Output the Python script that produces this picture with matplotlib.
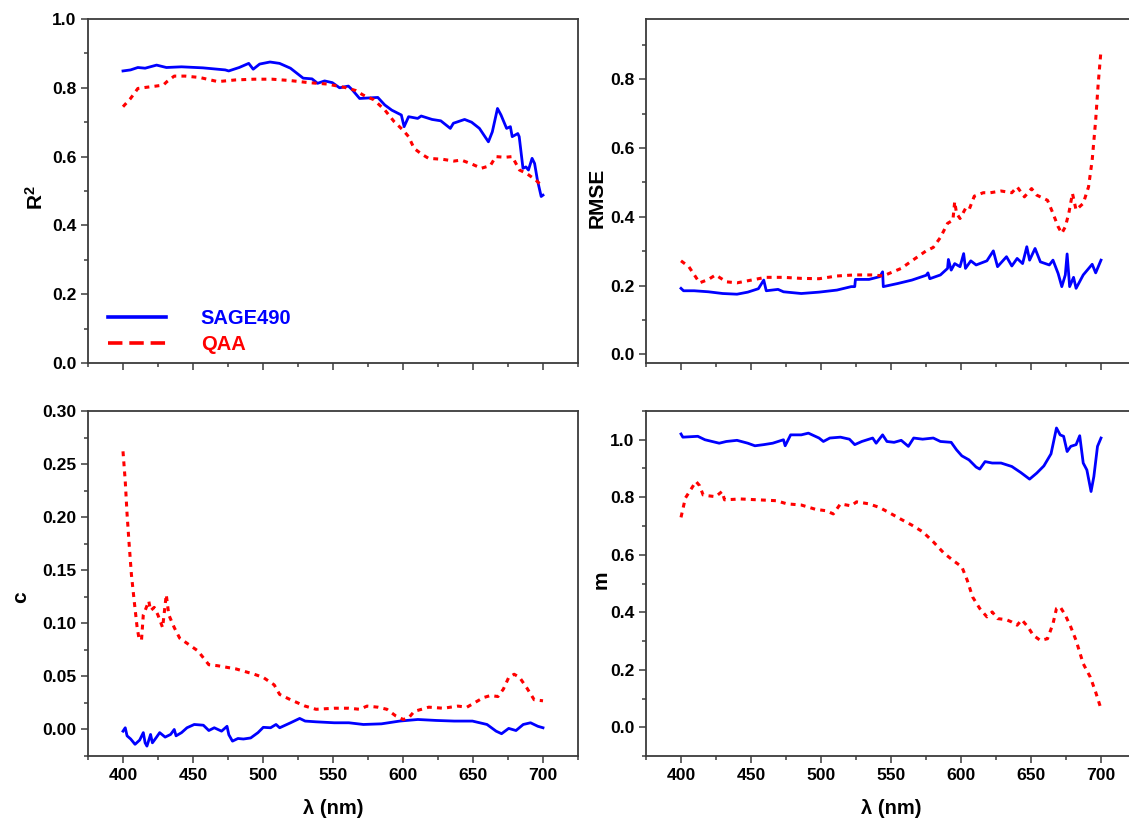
import matplotlib
matplotlib.use("Agg")
import matplotlib.pyplot as plt
from matplotlib.lines import Line2D
from matplotlib.ticker import MultipleLocator, FormatStrFormatter

# ---------------- data: retrieval skill vs wavelength ----------------
# R^2
wl_r2_sage = [400, 405.4, 410.6, 415.8, 424, 431, 441.8, 457, 473, 475.5,
              483, 489.8, 493, 497.6, 505, 511.8, 519.6, 528.7, 535, 539,
              544, 549.5, 554.7, 561, 563.8, 569, 582, 587, 592, 598.8,
              600.8, 604, 610.5, 613, 620.8, 627, 633.8, 636, 644, 649,
              654.6, 661, 663.8, 667.5, 670, 674, 676.7, 678, 682, 683,
              685.7, 687.8, 689.6, 692.2, 694, 696, 698.7, 700]
r2_sage = [0.849, 0.852, 0.859, 0.857, 0.866, 0.859, 0.861, 0.858, 0.852, 0.849,
           0.859, 0.871, 0.854, 0.869, 0.875, 0.871, 0.857, 0.828, 0.826, 0.813,
           0.820, 0.815, 0.800, 0.805, 0.794, 0.769, 0.772, 0.750, 0.735, 0.721,
           0.687, 0.716, 0.711, 0.718, 0.708, 0.704, 0.682, 0.697, 0.708, 0.700,
           0.682, 0.643, 0.672, 0.740, 0.721, 0.682, 0.687, 0.658, 0.667, 0.658,
           0.566, 0.570, 0.561, 0.595, 0.580, 0.532, 0.484, 0.488]

wl_r2_qaa = [400, 405.4, 410.6, 415.8, 423.6, 428.8, 431.4, 436.6, 444.4, 454.8,
             467.7, 480.7, 493.7, 506.6, 519.6, 532.6, 545.6, 558.5, 566.3, 571.5,
             579.3, 587.1, 593.6, 600, 604, 607.9, 613, 618.2, 628.6, 636.4,
             641.6, 649.4, 655.9, 662.4, 666.3, 672.7, 678, 683.2, 688.3, 694.8,
             698.7, 700]
r2_qaa = [0.745, 0.769, 0.798, 0.801, 0.805, 0.808, 0.818, 0.834, 0.834, 0.830,
          0.818, 0.823, 0.825, 0.825, 0.821, 0.815, 0.811, 0.801, 0.792, 0.779,
          0.765, 0.735, 0.702, 0.677, 0.658, 0.624, 0.608, 0.595, 0.592, 0.587,
          0.590, 0.578, 0.566, 0.574, 0.600, 0.598, 0.600, 0.561, 0.551, 0.532,
          0.517, 0.512]

# RMSE
wl_rmse_sage = [400, 401.8, 409.4, 419.6, 429.8, 440, 447.7, 455.3, 459.1, 460.9,
                469.3, 473.2, 485.9, 498.6, 511.4, 521.6, 524.1, 524.6, 534.3, 542,
                544, 544.5, 554.7, 564.9, 575.1, 576.4, 577.7, 585.3, 590.4, 591,
                593, 595.5, 599.3, 601.9, 603.2, 607, 610.8, 618.5, 623.1, 626.1,
                632.5, 636.3, 640.1, 644, 647, 649, 652.9, 656.7, 663.1, 665.7,
                669.4, 672, 674.5, 675.8, 677.6, 680.4, 682.2, 687.3, 693.7, 696.2,
                700]
rmse_sage = [0.192, 0.185, 0.185, 0.182, 0.177, 0.175, 0.181, 0.191, 0.216, 0.185,
             0.189, 0.182, 0.177, 0.181, 0.187, 0.197, 0.197, 0.218, 0.218, 0.226,
             0.240, 0.197, 0.206, 0.216, 0.230, 0.237, 0.220, 0.231, 0.250, 0.276,
             0.245, 0.264, 0.255, 0.293, 0.250, 0.272, 0.260, 0.272, 0.301, 0.255,
             0.284, 0.257, 0.279, 0.264, 0.313, 0.274, 0.308, 0.269, 0.260, 0.274,
             0.235, 0.197, 0.231, 0.292, 0.197, 0.224, 0.192, 0.231, 0.262, 0.237,
             0.274]

wl_rmse_qaa = [400, 405.6, 413.3, 419.6, 424.7, 432.4, 440, 450.2, 460.4, 473.2,
               485.9, 498.6, 511.4, 524.1, 536.9, 544.5, 549.6, 557.3, 564.9, 575.1,
               580.2, 585.3, 590.4, 594.2, 595.5, 596.8, 599.3, 603.2, 605.7, 609.5,
               615.9, 621, 628.6, 636.3, 640.1, 645.3, 650.4, 654.1, 661.8, 665.7,
               669.4, 672, 674.5, 677, 679.6, 682.2, 687.3, 691.1, 693.7, 696.2,
               698, 700]
rmse_qaa = [0.272, 0.255, 0.208, 0.218, 0.231, 0.211, 0.208, 0.216, 0.224, 0.224,
            0.221, 0.220, 0.228, 0.231, 0.231, 0.228, 0.237, 0.250, 0.272, 0.301,
            0.311, 0.340, 0.381, 0.390, 0.444, 0.410, 0.395, 0.424, 0.420, 0.460,
            0.470, 0.470, 0.475, 0.470, 0.487, 0.458, 0.482, 0.463, 0.448, 0.410,
            0.371, 0.352, 0.371, 0.410, 0.468, 0.420, 0.439, 0.487, 0.565, 0.681,
            0.787, 0.884]

# intercept c
wl_c_sage = [400, 401.6, 402.9, 405.5, 408.6, 411.9, 414.5, 415.8, 417.1, 419.7,
             421, 423.6, 426.2, 430.1, 434, 436.6, 437.9, 441.8, 445.7, 450.9,
             457.4, 461.3, 465.2, 470.4, 474.3, 475.6, 478.2, 482.1, 486, 491.2,
             496.4, 500.2, 505.4, 509.3, 511.9, 519.7, 526.2, 530.1, 537.9, 550.9,
             561.3, 571.7, 584.6, 597.6, 610.6, 623.6, 636.6, 649.6, 660, 666.5,
             670.4, 675.5, 680.7, 685.9, 691.1, 696.3, 700]
c_sage = [-0.0016, 0.0016, -0.006, -0.009, -0.014, -0.010, -0.003, -0.0126, -0.0157, -0.0047,
          -0.0126, -0.0079, -0.003, -0.0072, -0.0047, 0.0, -0.006, -0.003, 0.0016, 0.0047,
          0.004, -0.001, 0.0016, -0.0016, 0.003, -0.005, -0.011, -0.0085, -0.009, -0.008,
          -0.003, 0.002, 0.0016, 0.0047, 0.0016, 0.0063, 0.0104, 0.0079, 0.0072, 0.0063,
          0.0063, 0.0047, 0.0053, 0.0079, 0.0094, 0.0085, 0.0079, 0.0079, 0.0047, -0.0016,
          -0.004, 0.001, -0.001, 0.0047, 0.0063, 0.003, 0.0016]

wl_c_qaa = [400, 401.6, 402.9, 404.2, 406, 408, 410.1, 411.4, 413.2, 414.5,
            415.8, 418.4, 419.7, 422.3, 424.9, 428.3, 430.9, 432.7, 436.6, 440.5,
            447, 453.5, 461.3, 467.8, 480.8, 493.8, 500.2, 508, 511.9, 519.7,
            530.1, 537.9, 550.9, 561.3, 569.1, 574.3, 582, 588.5, 595, 600.2,
            604.1, 608, 618.4, 628.8, 639.2, 645.7, 649.6, 657.4, 662.6, 667.8,
            671.7, 675.5, 679.4, 683.3, 688.5, 693.7, 700]
c_qaa = [0.262, 0.234, 0.203, 0.178, 0.146, 0.121, 0.096, 0.086, 0.084, 0.108,
         0.112, 0.121, 0.112, 0.115, 0.108, 0.096, 0.127, 0.108, 0.096, 0.086,
         0.080, 0.074, 0.061, 0.060, 0.057, 0.052, 0.049, 0.042, 0.033, 0.028,
         0.022, 0.019, 0.020, 0.020, 0.019, 0.022, 0.021, 0.019, 0.0126, 0.0094,
         0.011, 0.017, 0.021, 0.020, 0.022, 0.021, 0.024, 0.030, 0.032, 0.031,
         0.038, 0.049, 0.052, 0.049, 0.039, 0.028, 0.027]

# slope m
wl_m_sage = [400, 401.3, 412, 417.1, 422.2, 427.3, 432.4, 440, 447.7, 452.8,
             459.1, 465.5, 473.2, 474.4, 478.3, 485.9, 491, 498.6, 501.7, 506.3,
             513.9, 520.3, 524.1, 529.2, 536.9, 539.4, 544, 547.1, 552.2, 557.3,
             562.4, 566.2, 572.6, 580.2, 585.3, 593, 596.8, 600.6, 605.7, 610.8,
             613.4, 617.2, 622.3, 628.6, 636.3, 642.7, 649, 654.1, 659.2, 664.3,
             668.2, 670.8, 673.3, 675.8, 678.4, 682.2, 684.8, 687.3, 689.9, 692.9,
             694.9, 697.5, 700]
m_sage = [1.020, 1.009, 1.012, 1.000, 0.994, 0.988, 0.994, 0.998, 0.988, 0.979,
          0.983, 0.988, 1.000, 0.979, 1.017, 1.017, 1.023, 1.006, 0.994, 1.006,
          1.009, 1.002, 0.983, 0.994, 1.006, 0.988, 1.017, 0.994, 0.991, 0.998,
          0.977, 1.006, 1.002, 1.006, 0.994, 0.991, 0.965, 0.944, 0.930, 0.905,
          0.898, 0.924, 0.919, 0.919, 0.907, 0.886, 0.863, 0.884, 0.909, 0.951,
          1.041, 1.017, 1.012, 0.959, 0.977, 0.983, 1.014, 0.919, 0.895, 0.820,
          0.872, 0.977, 1.006]

wl_m_qaa = [400, 403.1, 406.9, 410.7, 413.3, 415.8, 419.6, 424.7, 429.3, 431.1,
            442.6, 455.3, 468.1, 475.7, 485.9, 496.1, 503.7, 508.8, 513.9, 521.6,
            525.4, 534.3, 542, 549.6, 557.3, 564.9, 572.6, 580.2, 587.9, 595.5,
            600.6, 604.4, 608.3, 613.4, 618.5, 622.3, 626.1, 632.5, 636.3, 640.1,
            643.4, 647.8, 651.6, 656.7, 661.8, 665.7, 668.2, 670.8, 674.5, 678.4,
            682.2, 687.3, 692.4, 696.2, 700]
m_qaa = [0.730, 0.797, 0.826, 0.855, 0.840, 0.808, 0.805, 0.802, 0.820, 0.791,
         0.794, 0.791, 0.788, 0.777, 0.773, 0.758, 0.753, 0.742, 0.777, 0.770,
         0.784, 0.777, 0.764, 0.744, 0.723, 0.703, 0.680, 0.645, 0.605, 0.576,
         0.558, 0.512, 0.453, 0.413, 0.384, 0.401, 0.378, 0.374, 0.366, 0.355,
         0.374, 0.349, 0.320, 0.302, 0.308, 0.360, 0.413, 0.419, 0.390, 0.349,
         0.302, 0.221, 0.174, 0.122, 0.064]

series_names = ["SAGE490", "QAA"]

# ---------------- styling ----------------
plt.rcParams["font.family"] = ["Liberation Sans", "DejaVu Sans"]
plt.rcParams["font.weight"] = "bold"
plt.rcParams["axes.labelweight"] = "bold"
plt.rcParams["mathtext.fontset"] = "custom"
plt.rcParams["mathtext.rm"] = "Liberation Sans:bold"
plt.rcParams["mathtext.bf"] = "Liberation Sans:bold"

BLUE = "#0000ff"
RED = "#ff0000"
SPINE = "#3c3c3c"
W, H = 1129, 822

fig = plt.figure(figsize=(W / 100, H / 100), dpi=100)


def box(left, top, right, bottom):
    return [left / W, 1 - bottom / H, (right - left) / W, (bottom - top) / H]


ax_r2 = fig.add_axes(box(88, 19, 578, 363))
ax_rmse = fig.add_axes(box(646, 19, 1136, 363))
ax_c = fig.add_axes(box(88, 411, 578, 756))
ax_m = fig.add_axes(box(646, 411, 1136, 756))


def style(ax, ylim, ymajor, yminor, yfmt, ylabel, label_x, label_y, show_x):
    ax.set_xlim(375, 725)
    ax.set_ylim(*ylim)
    ax.xaxis.set_major_locator(MultipleLocator(50))
    ax.xaxis.set_minor_locator(MultipleLocator(25))
    ax.yaxis.set_major_locator(MultipleLocator(ymajor))
    ax.yaxis.set_minor_locator(MultipleLocator(yminor))
    ax.yaxis.set_major_formatter(FormatStrFormatter(yfmt))
    for s in ax.spines.values():
        s.set_color(SPINE)
        s.set_linewidth(1.3)
    ax.tick_params(which="both", direction="out", color=SPINE, width=1.1,
                   top=False, right=False)
    ax.tick_params(which="major", length=5, pad=3.5, labelsize=12.6)
    ax.tick_params(which="minor", length=3)
    ax.tick_params(axis="x", labelbottom=show_x)
    ax.set_ylabel(ylabel, fontsize=15)
    ax.yaxis.set_label_coords(label_x, label_y)
    if show_x:
        ax.set_xlabel("λ (nm)", fontsize=14.5, labelpad=12)


def draw(ax, wl_a, a, wl_b, b):
    ax.plot(wl_a, a, color=BLUE, lw=2.0, solid_joinstyle="round")
    ax.plot(wl_b, b, color=RED, lw=2.2, linestyle=(0, (1.6, 1.7)))


draw(ax_r2, wl_r2_sage, r2_sage, wl_r2_qaa, r2_qaa)
draw(ax_rmse, wl_rmse_sage, rmse_sage, wl_rmse_qaa, rmse_qaa)
draw(ax_c, wl_c_sage, c_sage, wl_c_qaa, c_qaa)
draw(ax_m, wl_m_sage, m_sage, wl_m_qaa, m_qaa)

style(ax_r2, (0, 1.0), 0.2, 0.1, "%.1f", r"$\mathbf{R^2}$", -0.085, 0.48, False)
style(ax_rmse, (-0.025, 0.975), 0.2, 0.1, "%.1f", "RMSE", -0.081, 0.48, False)
style(ax_c, (-0.025, 0.30), 0.05, 0.025, "%.2f", "c", -0.118, 0.46, True)
style(ax_m, (-0.1, 1.1), 0.2, 0.1, "%.1f", "m", -0.072, 0.51, True)

handles = [Line2D([], [], color=BLUE, lw=2.6),
           Line2D([], [], color=RED, lw=2.6, linestyle=(0, (4.0, 1.9)))]
ax_r2.legend(handles, series_names, loc="upper left",
             bbox_to_anchor=(0.041, 0.157), frameon=False,
             handlelength=2.9, handletextpad=1.7, labelspacing=0.35,
             borderpad=0, borderaxespad=0,
             prop={"size": 14.5, "weight": "bold"},
             labelcolor=[BLUE, RED])

fig.savefig("out.png", dpi=100)
